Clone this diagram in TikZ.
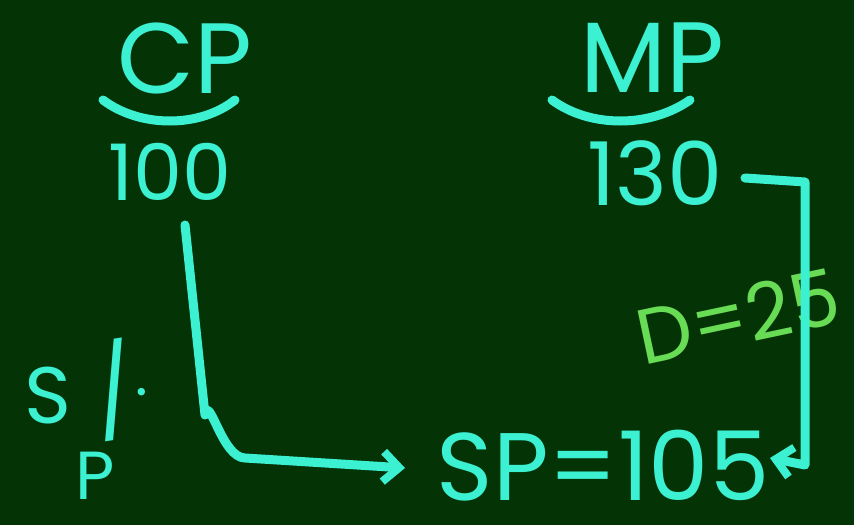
\documentclass[tikz,border=0pt]{standalone}
\usepackage{fontspec}
\setmainfont{Poppins}
\usetikzlibrary{arrows.meta}
\definecolor{board}{RGB}{4,52,6}
\definecolor{chalk}{RGB}{60,240,210}
\definecolor{chalkg}{RGB}{105,220,85}
\tikzset{
  hand/.style={text=chalk, inner sep=0pt, font=\fontsize{#1}{#1}\selectfont},
  hand/.default=100,
  conn/.style={draw=chalk, line width=9pt, line cap=round, line join=round},
  tip/.style={-{Straight Barb[length=16pt,width=30pt,line width=8pt]}}
}
\begin{document}
\begin{tikzpicture}[x=1pt,y=-1pt]
\useasboundingbox (0,0) rectangle (854,525);
\fill[board] (0,0) rectangle (854,525);
% labels
\node[hand=100] (cp) at (185,58) {CP};
\node[hand=100] (mp) at (652,58) {MP};
\node[hand=78] (c100) at (170,172) {100};
\node[hand=88] (c130) at (655,173) {130};
\node[hand=96] (sp) at (603,466) {SP=105};
\node[hand=80] (s) at (48,396) {S};
\node[hand=90, rotate=9] (slash) at (114,390) {/};
\node[hand=60] (dot) at (142,392) {.};
\node[hand=68] (p) at (95,476) {P};
\node[text=chalkg, inner sep=0pt, font=\fontsize{78}{78}\selectfont, rotate=12] (d) at (738,316) {D=25};
% underbraces
\draw[conn] (103,100) .. controls (140,128) and (200,128) .. (235,100);
\draw[conn] (552,100) .. controls (590,128) and (650,128) .. (690,100);
% connectors
\coordinate (a1) at (185,225);
\coordinate (a2) at (205,415);
\coordinate (a3) at (405,468);
\draw[conn, tip] (a1) -- (a2) to[out=80,in=180] (245,458) -- (a3);
\coordinate (b0) at (745,178);
\coordinate (b1) at (805,182);
\coordinate (b2) at (805,465);
\coordinate (b3) at (770,458);
\draw[conn, tip] (b0) -- (b1) -- (b2) -- (b3);
\end{tikzpicture}
\end{document}
